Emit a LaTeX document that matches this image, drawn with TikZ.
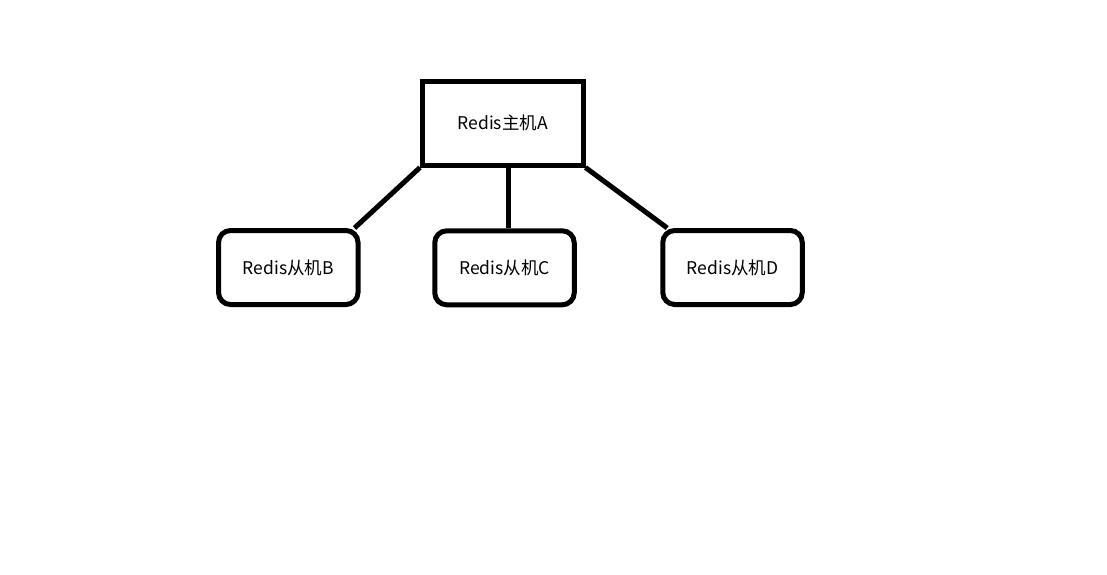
\documentclass[tikz,border=0pt]{standalone}
\usepackage{fontspec}
\setmainfont{Noto Sans CJK SC}
\usetikzlibrary{calc}
\tikzset{
  master/.style={draw=black, line width=5pt, rectangle, inner sep=0pt, minimum width=160.5pt, minimum height=84pt, font=\fontsize{17.5}{20}\selectfont},
  slave/.style={draw=black, line width=5pt, rectangle, rounded corners=12pt, inner sep=0pt, minimum width=139.5pt, minimum height=74pt, font=\fontsize{17.5}{20}\selectfont},
  link/.style={draw=black, line width=5pt}
}
\begin{document}
\begin{tikzpicture}[x=1pt,y=-1pt]
\useasboundingbox (0,0) rectangle (1107,574);
\node[master] (A) at (502.75,123) {\raisebox{-1.5pt}{Redis主机A}};
\node[slave] (B) at (288.25,267.5) {Redis从机B};
\node[slave] (C) at (504.5,267.8) {\raisebox{1.5pt}{Redis从机C}};
\node[slave] (D) at (732.5,267.5) {Redis从机D};
\draw[link] (A.south west) -- ($(B.north east)+(-6,0)$);
\draw[link] ($(A.south)+(5.75,0)$) -- ($(C.north)+(4,0)$);
\draw[link] (A.south east) -- ($(D.north west)+(7,0)$);
\end{tikzpicture}
\end{document}
